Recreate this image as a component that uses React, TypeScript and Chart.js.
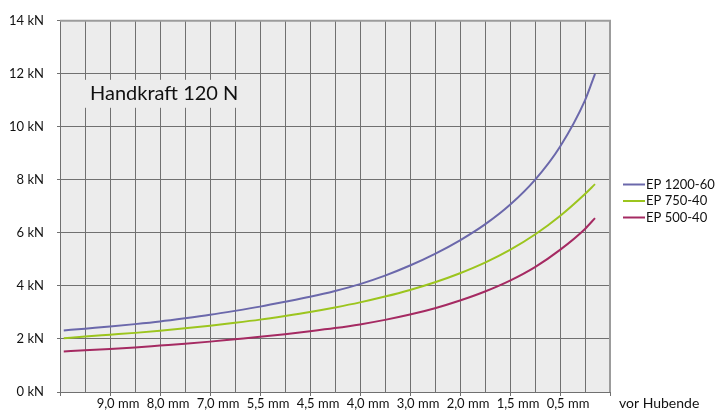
import React, { useEffect, useRef } from 'react';
import { Chart, registerables } from 'chart.js';

Chart.register(...registerables);

// Stroke position in grid units (0 = left edge, 22 = right edge)
const xPositions = [0.15, 1, 2, 3, 4, 5, 6, 7, 8, 9, 10, 11, 12, 13, 14, 15, 16, 17, 18, 19, 20, 21, 21.4];
const ep1200 = [2.32, 2.39, 2.47, 2.56, 2.66, 2.78, 2.91, 3.06, 3.22, 3.4, 3.59, 3.81, 4.07, 4.39, 4.77, 5.21, 5.72, 6.32, 7.06, 8.0, 9.25, 11.0, 12.0];
const ep750 = [2.03, 2.09, 2.16, 2.23, 2.31, 2.4, 2.5, 2.61, 2.73, 2.87, 3.02, 3.19, 3.38, 3.6, 3.85, 4.14, 4.48, 4.88, 5.36, 5.94, 6.64, 7.47, 7.84];
const ep500 = [1.53, 1.57, 1.62, 1.68, 1.75, 1.82, 1.9, 1.99, 2.08, 2.18, 2.29, 2.41, 2.55, 2.72, 2.92, 3.16, 3.45, 3.79, 4.2, 4.71, 5.36, 6.15, 6.56];
const seriesNames = ['EP 1200-60', 'EP 750-40', 'EP 500-40'];
const seriesColors = ['#6b68ab', '#9cc51e', '#a52a62'];
const xTickLabels = ['9,0 mm', '8,0 mm', '7,0 mm', '5,5 mm', '4,5 mm', '4,0 mm', '3,0 mm', '2,0 mm', '1,5 mm', '0,5 mm'];
const yMin = 0;
const yMax = 14;
const yStep = 2;
const xMin = 0;
const xMax = 22;
const titleText = 'Handkraft 120 N';
const xAxisNote = 'vor Hubende';

const FONT = 'Lato, "Open Sans", sans-serif';

const decorPlugin = {
  id: 'decor',
  beforeDraw(chart: any) {
    const { ctx, chartArea: a } = chart;
    ctx.save();
    ctx.fillStyle = '#ececec';
    ctx.fillRect(a.left, a.top, a.right - a.left, a.bottom - a.top);
    ctx.restore();
  },
  beforeDatasetsDraw(chart: any) {
    const { ctx, chartArea: a } = chart;
    ctx.save();
    ctx.strokeStyle = '#9c9c9c';
    ctx.lineWidth = 2;
    ctx.beginPath();
    ctx.moveTo(a.left, a.top);
    ctx.lineTo(a.right, a.top);
    ctx.lineTo(a.right, a.bottom);
    ctx.stroke();
    ctx.fillStyle = '#ececec';
    ctx.fillRect(a.left + 22, a.top + 59, 168, 28);
    ctx.fillStyle = '#111';
    ctx.font = `20px ${FONT}`;
    ctx.textBaseline = 'middle';
    ctx.textAlign = 'left';
    ctx.fillText(titleText, a.left + 30, a.top + 73);
    ctx.restore();
  },
  afterDraw(chart: any) {
    const { ctx, chartArea: a } = chart;
    ctx.save();
    ctx.textBaseline = 'middle';
    ctx.textAlign = 'left';
    ctx.fillStyle = '#111';
    ctx.font = `14px ${FONT}`;
    ctx.fillText(xAxisNote, a.right + 9, a.bottom + 11);
    ctx.font = `13px ${FONT}`;
    seriesNames.forEach((name, i) => {
      const y = 184.5 + i * 16.5;
      ctx.strokeStyle = seriesColors[i];
      ctx.lineWidth = 2;
      ctx.beginPath();
      ctx.moveTo(623, y);
      ctx.lineTo(645, y);
      ctx.stroke();
      ctx.fillStyle = '#111';
      ctx.fillText(name, 646, y);
    });
    ctx.restore();
  },
};

export default function App() {
  const ref = useRef<HTMLCanvasElement | null>(null);
  useEffect(() => {
    document.body.style.margin = '0';
    const series = [ep1200, ep750, ep500];
    const chart = new Chart(ref.current as HTMLCanvasElement, {
      type: 'line',
      data: {
        datasets: series.map((vals, i) => ({
          label: seriesNames[i],
          data: vals.map((v, j) => ({ x: xPositions[j], y: v })),
          borderColor: seriesColors[i],
          borderWidth: 2,
          pointRadius: 0,
          cubicInterpolationMode: 'monotone' as const,
          fill: false,
        })),
      },
      options: {
        animation: false,
        responsive: false,
        layout: { padding: { top: 20, right: 105, left: 0, bottom: 0 } },
        plugins: { legend: { display: false }, tooltip: { enabled: false } },
        scales: {
          x: {
            type: 'linear',
            min: xMin,
            max: xMax,
            afterFit: (s: any) => { s.height = 22; },
            grid: {
              color: '#707070',
              lineWidth: 1,
              drawTicks: true,
              tickLength: 4,
              tickColor: (c: any) => (c.tick && c.tick.value % 2 === 0 ? '#707070' : 'rgba(0,0,0,0)'),
            },
            border: { color: '#707070', width: 1 },
            ticks: {
              stepSize: 1,
              autoSkip: false,
              maxRotation: 0,
              padding: 0,
              labelOffset: 8,
              color: '#111',
              font: { family: FONT, size: 13 },
              callback: (v: any) => {
                const n = Number(v);
                if (n >= 2 && n <= 20 && n % 2 === 0) return xTickLabels[(n - 2) / 2];
                return '';
              },
            },
          },
          y: {
            min: yMin,
            max: yMax,
            afterFit: (s: any) => { s.width = 60; },
            grid: { color: '#707070', lineWidth: 1, tickLength: 3, tickColor: '#707070' },
            border: { color: '#707070', width: 1 },
            ticks: {
              stepSize: yStep,
              padding: 13,
              color: '#111',
              font: { family: FONT, size: 13 },
              callback: (v: any) => `${v} kN`,
            },
          },
        },
      },
      plugins: [decorPlugin],
    });
    return () => chart.destroy();
  }, []);
  return (
    <div style={{ width: 715, height: 414 }}>
      <canvas ref={ref} width={715} height={414} style={{ display: 'block' }} />
    </div>
  );
}
